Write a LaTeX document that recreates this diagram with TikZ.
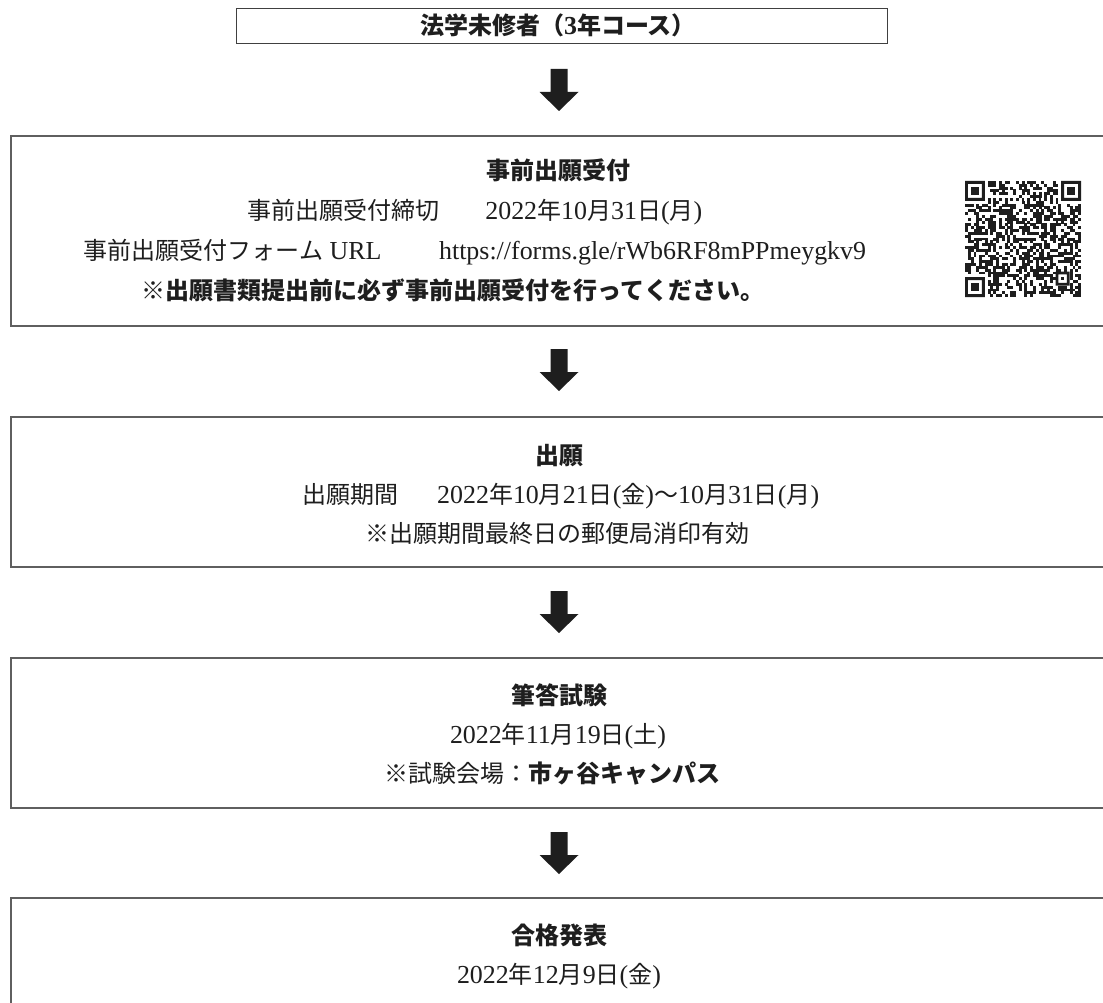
\documentclass[tikz,border=0pt]{standalone}
\usepackage{fontspec}
\setmainfont{Noto Sans CJK JP}
\newfontfamily\latf{Liberation Serif}[Scale=1.08]
\newcommand\lt[1]{{\latf #1}}
\definecolor{boxgray}{HTML}{5F5F5F}
\definecolor{ink}{HTML}{1E1E1E}
\tikzset{
  frame/.style={draw=boxgray, line width=1.7pt, rectangle, inner sep=0pt, anchor=north west},
  topframe/.style={draw=ink!85, line width=1.1pt, rectangle, inner sep=0pt, anchor=north west},
  txt/.style={anchor=base, inner sep=0pt, text=ink, font=\fontsize{24}{24}\selectfont},
  ttl/.style={txt, font=\fontsize{24}{24}\selectfont\bfseries},
  blockarrow/.pic={\fill[ink] (-8.5,0) -- (8.5,0) -- (8.5,23) -- (19.5,23) -- (0,42) -- (-19.5,23) -- (-8.5,23) -- cycle;},
  qrmod/.style={fill=ink}
}
\begin{document}
\begin{tikzpicture}[x=1pt,y=-1pt]
\clip (0,0) rectangle (1103,1003);
\fill[white] (0,0) rectangle (1103,1003);

% boxes
\node[topframe, minimum width=651pt, minimum height=35pt] (b1) at (236,8) {};
\node[frame, minimum width=1105pt, minimum height=190pt] (b2) at (10,135) {};
\node[frame, minimum width=1105pt, minimum height=150pt] (b3) at (10,416) {};
\node[frame, minimum width=1105pt, minimum height=150pt] (b4) at (10,657) {};
\node[frame, minimum width=1105pt, minimum height=150pt] (b5) at (10,897) {};

% arrows
\coordinate (a1) at (559,69);
\coordinate (a2) at (559,349);
\coordinate (a3) at (559,591);
\coordinate (a4) at (559,832);
\pic at (a1) {blockarrow};
\pic at (a2) {blockarrow};
\pic at (a3) {blockarrow};
\pic at (a4) {blockarrow};

% top box
\node[ttl] (t1) at (558,35) {法学未修者（\lt{3}年コース）};

% box 2
\node[ttl] (t2a) at (558,180) {事前出願受付};
\node[txt] (t2b) at (475,219) {事前出願受付締切\hspace{1.9em}\lt{2022}年\lt{10}月\lt{31}日\lt{(}月\lt{)}};
\node[txt] (t2c) at (475,259) {事前出願受付フォーム\lt{ URL}\hspace{2.4em}\lt{https://forms.gle/rWb6RF8mPPmeygkv9}};
\node[ttl] (t2d) at (453,299) {※出願書類提出前に必ず事前出願受付を行ってください。};

% box 3
\node[ttl] (t3a) at (559,464) {出願};
\node[txt] (t3b) at (561,503) {出願期間\hspace{1.6em}\lt{2022}年\lt{10}月\lt{21}日\lt{(}金\lt{)}～\lt{10}月\lt{31}日\lt{(}月\lt{)}};
\node[txt] (t3c) at (557,542) {※出願期間最終日の郵便局消印有効};

% box 4
\node[ttl] (t4a) at (559,704) {筆答試験};
\node[txt] (t4b) at (558,743) {\lt{2022}年\lt{11}月\lt{19}日\lt{(}土\lt{)}};
\node[txt] (t4c) at (552,782) {※試験会場：\textbf{市ヶ谷キャンパス}};

% box 5
\node[ttl] (t5a) at (559,944) {合格発表};
\node[txt] (t5b) at (559,983) {\lt{2022}年\lt{12}月\lt{9}日\lt{(}金\lt{)}};

% QR code (approximation)
\begin{scope}[shift={(965,181)}, x=2.83pt, y=-2.83pt]
  \foreach \fx/\fy in {0/0, 34/0, 0/34}{
    \fill[ink, even odd rule] (\fx,\fy) rectangle ++(7,7) (\fx+1,\fy+1) rectangle ++(5,5);
    \fill[ink] (\fx+2,\fy+2) rectangle ++(3,3);
  }
  \fill[ink, even odd rule] (32,32) rectangle ++(5,5) (33,33) rectangle ++(3,3);
  \fill[ink] (34,34) rectangle ++(1,1);
  \foreach \k in {8,10,...,32}{
    \fill[ink] (\k,6) rectangle ++(1.02,1.02);
    \fill[ink] (6,\k) rectangle ++(1.02,1.02);
  }
  \pgfmathsetseed{2718}
  \foreach \i in {0,...,40}{
    \foreach \j in {0,...,40}{
      \pgfmathtruncatemacro{\skipit}{or(or(and(\i<8,\j<8),and(\i>32,\j<8)),or(and(\i<8,\j>32),or(or(\i==6,\j==6),and(and(\i>31,\i<37),and(\j>31,\j<37)))))}
      \pgfmathtruncatemacro{\bit}{rnd<0.5}
      \ifnum\skipit=0
        \ifnum\bit=1
          \fill[ink] (\i,\j) rectangle ++(1.03,1.03);
        \fi
      \fi
    }
  }
\end{scope}
\end{tikzpicture}
\end{document}
